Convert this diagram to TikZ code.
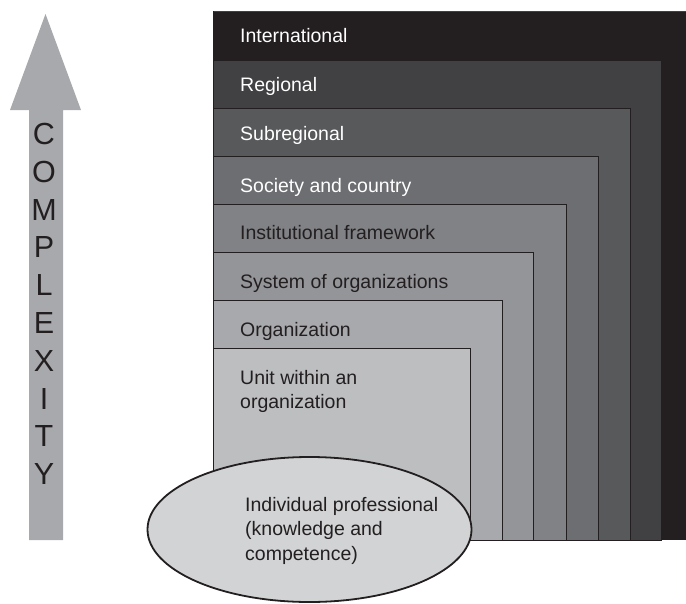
\documentclass[tikz,border=0pt]{standalone}
\usepackage{fontspec}
\setmainfont{Liberation Sans}
\definecolor{k100}{HTML}{231F20}
\definecolor{k90}{HTML}{414042}
\definecolor{k80}{HTML}{58595B}
\definecolor{k70}{HTML}{6D6E71}
\definecolor{k60}{HTML}{808285}
\definecolor{k50}{HTML}{939598}
\definecolor{k40}{HTML}{A7A9AC}
\definecolor{k30}{HTML}{BCBEC0}
\definecolor{k20}{HTML}{D1D3D4}
\begin{document}
\begin{tikzpicture}[x=1pt,y=-1pt,
  band/.style={draw=k100, line width=0.8pt},
  lbl/.style={anchor=base west, inner sep=0pt, font=\fontsize{19.5}{24.5}\selectfont, align=left},
  lightlbl/.style={lbl, text=white},
  darklbl/.style={lbl, text=k100},
  letter/.style={anchor=base, inner sep=0pt, text=k100, font=\fontsize{30.5}{32}\selectfont},
  core/.style={draw=k100, line width=1.8pt, fill=k20}]
\useasboundingbox (0,0) rectangle (686,603);

% complexity arrow
\fill[k40] (29,540) -- (29,110) -- (10,110) -- (45.5,14) -- (81,110) -- (63,110) -- (63,540) -- cycle;
\foreach \ch [count=\i from 0] in {C,O,M,P,L,E,X,I,T,Y}
  \node[letter] (let\i) at (44,144.5+37.8*\i) {\ch};

% nested levels, outermost first
\fill[k100] (213,11) rectangle (686,540);
\draw[k90, line width=0.8pt] (213,11) -- (686,11);
\draw[k100, line width=0.8pt] (213,11) -- (213,540);
\filldraw[band, fill=k90] (213,60) rectangle (661.5,540);
\filldraw[band, fill=k80] (213,108) rectangle (630,540);
\filldraw[band, fill=k70] (213,156) rectangle (598,540);
\filldraw[band, fill=k60] (213,204) rectangle (566,540);
\filldraw[band, fill=k50] (213,252) rectangle (533.5,540);
\filldraw[band, fill=k40] (213,300) rectangle (502,540);
\filldraw[band, fill=k30] (213,348) rectangle (470,540);

% level labels (multi-line labels are anchored at their last baseline)
\node[lightlbl] (intl) at (240,42) {International};
\node[lightlbl] (reg) at (240,91) {Regional};
\node[lightlbl] (subreg) at (240,140) {Subregional};
\node[lightlbl] (soc) at (240,192) {Society and country};
\node[darklbl] (inst) at (240,239) {Institutional framework};
\node[darklbl] (sys) at (240,288) {System of organizations};
\node[darklbl] (org) at (240,336) {Organization};
\node[darklbl] (unit) at (240,408.5) {Unit within an\\organization};

% individual level
\draw[core] (309.5,529.5) ellipse [x radius=162, y radius=72.5];
\node[darklbl] (indiv) at (245,560) {Individual professional\\(knowledge and\\competence)};
\end{tikzpicture}
\end{document}
